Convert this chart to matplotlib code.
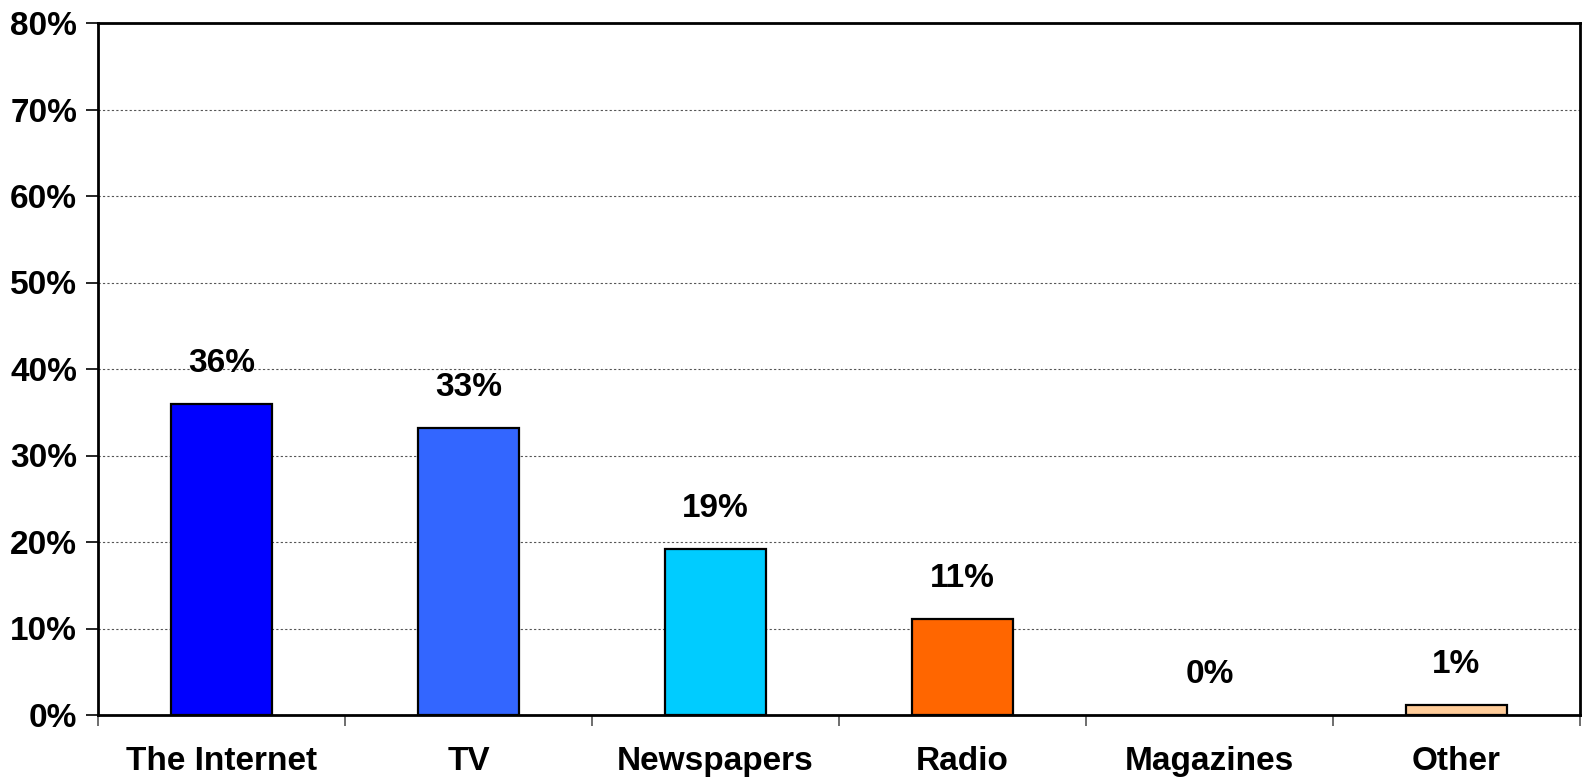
import numpy as np
import matplotlib
matplotlib.use("Agg")
import matplotlib.pyplot as plt
from matplotlib.ticker import FixedLocator, PercentFormatter

# ===============================
# DATA
# ===============================
categories = ["The Internet", "TV", "Newspapers", "Radio", "Magazines", "Other"]
values = [36, 33, 19, 11, 0, 1]
heights = [35.9, 33.2, 19.2, 11.1, 0.0, 1.2]
colors = ["#0000FF", "#3366FF", "#00CCFF", "#FF6600", "#9999FF", "#FFCC99"]

plt.rcParams["font.family"] = ["Liberation Sans", "DejaVu Sans"]
plt.rcParams["font.weight"] = "bold"

fig = plt.figure(figsize=(15.86, 7.79), dpi=100)
ax = fig.add_axes([98 / 1586, 1 - 715 / 779, (1580 - 98) / 1586, (715 - 23) / 779])

x = np.arange(len(categories))
edge_w = [1.6 if h > 0 else 0 for h in heights]
ax.bar(x, heights, width=0.41, color=colors, edgecolor="black", linewidth=edge_w, zorder=3)

# value labels
for xi, h, v in zip(x, heights, values):
    ax.annotate(f"{v}%", (xi, h), xytext=(0, 18), textcoords="offset points",
                ha="center", va="bottom", fontsize=24, fontweight="bold")

ax.set_xlim(-0.5, len(categories) - 0.5)
ax.set_ylim(0, 80)
ax.set_yticks(np.arange(0, 81, 10))
ax.yaxis.set_major_formatter(PercentFormatter(decimals=0))
ax.grid(axis="y", linestyle=(0, (2, 2)), color="#555555", linewidth=0.8, zorder=0)

# x: labels at centres, ticks at category boundaries
ax.set_xticks(x)
ax.set_xticklabels(categories, fontsize=24, fontweight="bold")
ax.tick_params(axis="x", which="major", length=0, pad=22)
ax.xaxis.set_minor_locator(FixedLocator(np.arange(-0.5, len(categories), 1)))
ax.tick_params(axis="x", which="minor", length=8, width=1.2, color="#555555", direction="out")
ax.tick_params(axis="y", length=9, width=1.2, direction="out", labelsize=24, pad=6)
for lab in ax.get_yticklabels():
    lab.set_fontweight("bold")

for sp in ax.spines.values():
    sp.set_linewidth(2)
    sp.set_color("black")

fig.savefig("out.png", dpi=100)
